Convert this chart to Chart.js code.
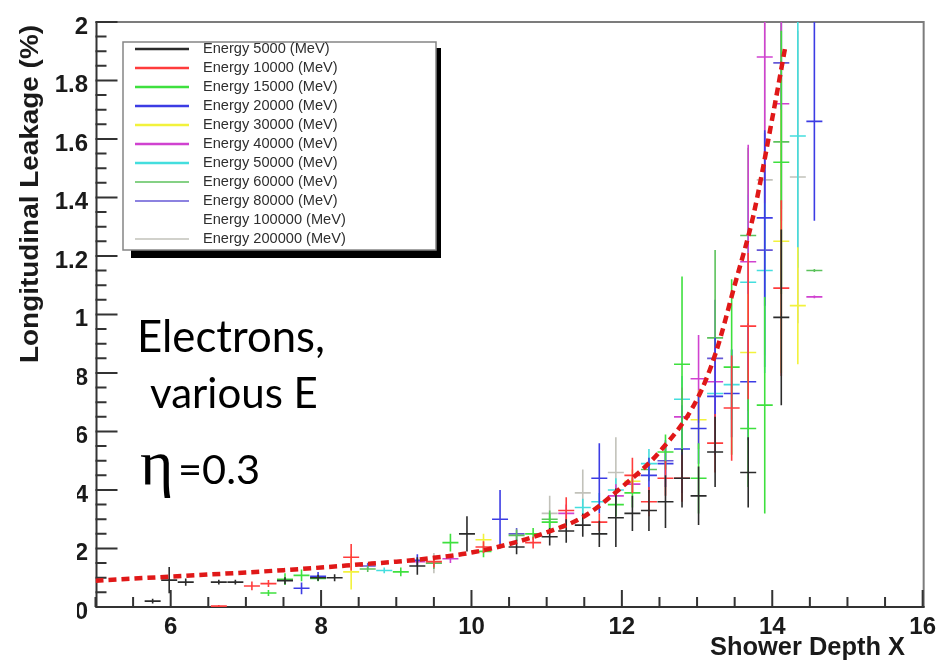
<!DOCTYPE html>
<html>
<head>
<meta charset="utf-8">
<title>Longitudinal Leakage vs Shower Depth</title>
<script src="https://cdn.jsdelivr.net/npm/chart.js@4.4.1/dist/chart.umd.min.js"></script>
<style>
  html, body { margin: 0; padding: 0; background: #fff; }
  #wrap { width: 942px; height: 661px; }
</style>
</head>
<body>
<div id="wrap"><canvas id="leakChart" width="942" height="661"></canvas></div>
<script>
'use strict';

// beam energies (MeV) and colour of each series
const energies = [5000, 10000, 15000, 20000, 30000, 40000, 50000, 60000, 80000, 100000, 200000];
const energyColors = ['#2b2b2b', '#ff3c3c', '#3ee03e', '#3c3ce4', '#f2f23c', '#d042d0', '#44dede', '#5cc25c', '#6658d6', '#ffffff', '#c2c2ba'];

// points: [shower depth X, leakage %, error]
const e5000 = [[5.76,0.02,0.008],[5.98,0.092,0.045],[6.2,0.085,0.012],[6.64,0.085,0.008],[6.86,0.085,0.008],[7.52,0.09,0.012],[7.96,0.1,0.01],[8.18,0.1,0.012],[9.28,0.14,0.03],[9.94,0.25,0.06],[10.6,0.205,0.025],[11.04,0.24,0.03],[11.26,0.26,0.04],[11.48,0.28,0.04],[11.7,0.25,0.045],[11.92,0.305,0.1],[12.14,0.32,0.06],[12.36,0.33,0.07],[12.58,0.36,0.09],[12.8,0.44,0.1],[13.02,0.38,0.1],[13.24,0.53,0.12],[13.68,0.46,0.12],[14.12,0.99,0.3]];
const e10000 = [[6.64,0.003,0.004],[7.08,0.072,0.015],[7.3,0.08,0.012],[8.4,0.17,0.045],[9.5,0.155,0.02],[10.16,0.205,0.02],[10.82,0.22,0.02],[11.26,0.33,0.045],[11.7,0.29,0.03],[12.14,0.45,0.06],[12.36,0.36,0.05],[12.58,0.44,0.06],[12.8,0.44,0.08],[13.24,0.56,0.1],[13.46,0.68,0.18],[13.68,0.96,0.25],[14.12,1.09,0.3]];
const e15000 = [[7.3,0.048,0.01],[7.52,0.095,0.02],[7.74,0.108,0.02],[7.96,0.098,0.01],[9.06,0.12,0.015],[9.72,0.22,0.03],[10.16,0.19,0.02],[10.82,0.25,0.02],[11.04,0.29,0.03],[11.92,0.35,0.04],[12.14,0.39,0.05],[12.58,0.53,0.06],[12.8,0.83,0.3],[13.02,0.44,0.12],[13.46,0.82,0.3],[13.68,0.61,0.2],[13.9,0.69,0.37],[14.12,1.52,0.45]];
const e20000 = [[7.74,0.064,0.02],[7.96,0.105,0.015],[9.28,0.16,0.02],[10.38,0.3,0.1],[11.7,0.44,0.12],[12.36,0.45,0.06],[12.58,0.49,0.08],[12.8,0.54,0.15],[13.02,0.61,0.12],[13.24,0.72,0.2],[13.46,0.73,0.15],[13.68,0.77,0.2],[13.9,1.33,0.3],[14.56,1.66,0.34]];
const e30000 = [[8.4,0.12,0.06],[10.16,0.23,0.02],[12.14,0.43,0.04],[13.02,0.64,0.1],[13.68,0.87,0.2],[14.12,1.25,0.45],[14.34,1.03,0.2]];
const e40000 = [[9.28,0.155,0.01],[9.72,0.165,0.015],[11.26,0.32,0.03],[11.92,0.38,0.04],[12.14,0.42,0.03],[12.8,0.65,0.1],[13.02,0.78,0.15],[13.24,0.77,0.12],[13.68,1.18,0.4],[13.9,1.88,0.5],[14.12,1.72,0.4],[14.56,1.06,0.005]];
const e50000 = [[8.84,0.125,0.01],[11.48,0.34,0.03],[11.7,0.36,0.03],[11.92,0.4,0.04],[12.36,0.49,0.05],[12.8,0.71,0.08],[13.24,0.73,0.1],[13.46,0.76,0.12],[13.68,1.11,0.3],[13.9,1.15,0.35],[14.34,1.61,0.45]];
const e60000 = [[8.62,0.13,0.01],[9.5,0.15,0.02],[10.6,0.245,0.02],[11.04,0.3,0.03],[12.36,0.47,0.04],[13.24,0.92,0.3],[13.68,1.27,0.3],[14.12,1.59,0.5],[14.56,1.15,0.005]];
const e80000 = [[8.62,0.14,0.01],[10.6,0.25,0.02],[12.58,0.5,0.05],[13.24,0.85,0.2],[13.9,1.22,0.4],[14.12,1.86,0.5]];
const e100000 = [];
const e200000 = [[9.5,0.15,0.035],[11.04,0.32,0.06],[11.48,0.39,0.08],[11.92,0.46,0.12],[13.9,1.46,0.6],[14.34,1.47,0.5]];

const energySeries = [e5000, e10000, e15000, e20000, e30000, e40000, e50000, e60000, e80000, e100000, e200000];

// parametrised leakage curve
const fitX = [5, 5.5, 6, 6.5, 7, 7.5, 8, 8.5, 9, 9.5, 10, 10.5, 11, 11.5, 12, 12.5, 13, 13.25, 13.5, 13.75, 14, 14.17];
const fitY = [0.09, 0.097, 0.104, 0.111, 0.118, 0.126, 0.135, 0.145, 0.155, 0.168, 0.186, 0.215, 0.255, 0.31, 0.41, 0.53, 0.71, 0.87, 1.1, 1.34, 1.67, 1.91];

// axes
const xTicks = [6, 8, 10, 12, 14, 16];
const yTicks = [0, 0.2, 0.4, 0.6, 0.8, 1, 1.2, 1.4, 1.6, 1.8, 2];
const yTickLabels = ['0', '0.2', '0.4', '0.6', '0.8', '1', '1.2', '1.4', '1.6', '1.8', '2'];

const axisFont = '"Liberation Sans", Arial, Helvetica, sans-serif';

// vertical error bars, drawn right after each series so stacking stays the same
const errorBars = {
  id: 'errorBars',
  afterDatasetDraw(chart, args) {
    const ds = chart.data.datasets[args.index];
    if (!ds.withErrors) return;
    const { ctx, chartArea: a, scales: { y } } = chart;
    ctx.save();
    ctx.beginPath();
    ctx.rect(a.left, a.top, a.right - a.left, a.bottom - a.top);
    ctx.clip();
    ctx.strokeStyle = ds.borderColor;
    ctx.lineWidth = ds.pointBorderWidth;
    args.meta.data.forEach((pt, i) => {
      const p = ds.data[i];
      ctx.beginPath();
      ctx.moveTo(pt.x, y.getPixelForValue(p.y + p.e));
      ctx.lineTo(pt.x, y.getPixelForValue(p.y - p.e));
      ctx.stroke();
    });
    ctx.restore();
  }
};

// frame with inward ticks
const frame = {
  id: 'frame',
  beforeDatasetsDraw(chart) {
    const { ctx, chartArea: a, scales: { x, y } } = chart;
    ctx.save();
    ctx.lineCap = 'butt';
    ctx.strokeStyle = '#7c7c7c';
    ctx.lineWidth = 2;
    ctx.beginPath();
    ctx.moveTo(a.left, a.top);
    ctx.lineTo(a.right + 1, a.top);
    ctx.lineTo(a.right + 1, a.bottom);
    ctx.stroke();

    ctx.strokeStyle = '#333';
    ctx.beginPath();
    ctx.moveTo(a.left + 1, a.top);
    ctx.lineTo(a.left + 1, a.bottom);
    ctx.lineTo(a.right + 2, a.bottom);
    ctx.stroke();

    ctx.beginPath();
    for (let k = 10; k <= 32; k++) {
      const v = k / 2;
      const px = x.getPixelForValue(v);
      const len = (v % 2 === 0) ? 17 : 10;
      ctx.moveTo(px, a.bottom);
      ctx.lineTo(px, a.bottom - len);
    }
    for (let k = 0; k <= 40; k++) {
      const py = y.getPixelForValue(k * 0.05);
      const len = (k % 4 === 0) ? 22 : 11;
      ctx.moveTo(a.left, py);
      ctx.lineTo(a.left + len, py);
    }
    ctx.stroke();
    ctx.restore();
  }
};

function fitFont(ctx, text, style, family, width) {
  ctx.font = style + ' 100px ' + family;
  const size = 100 * width / ctx.measureText(text).width;
  ctx.font = style + ' ' + size.toFixed(1) + 'px ' + family;
}

// legend box, axis titles and the text note
const decorations = {
  id: 'decorations',
  afterDraw(chart) {
    const ctx = chart.ctx;
    ctx.save();

    // legend
    const l = 123, t = 42, r = 436, b = 250;
    ctx.fillStyle = '#000';
    ctx.fillRect(131, b, r - 131 + 5, 8);
    ctx.fillRect(r, 48, 5, b - 48 + 8);
    ctx.fillStyle = '#fff';
    ctx.fillRect(l, t, r - l, b - t);
    ctx.strokeStyle = '#858585';
    ctx.lineWidth = 1.5;
    ctx.strokeRect(l, t, r - l, b - t);
    fitFont(ctx, 'Energy 5000 (MeV)', '', axisFont, 127);
    ctx.textBaseline = 'middle';
    ctx.textAlign = 'left';
    energies.forEach((e, i) => {
      const yy = 49 + i * 19;
      ctx.strokeStyle = energyColors[i];
      ctx.lineWidth = i < 7 ? 2.5 : 1.5;
      ctx.beginPath();
      ctx.moveTo(135, yy);
      ctx.lineTo(189, yy);
      ctx.stroke();
      ctx.fillStyle = '#2e2e2e';
      ctx.fillText('Energy ' + e + ' (MeV)', 203, yy);
    });

    // axis titles
    ctx.fillStyle = '#1a1a1a';
    ctx.textBaseline = 'alphabetic';
    ctx.font = 'bold 25px ' + axisFont;
    ctx.textAlign = 'right';
    const xt = 'Shower Depth X';
    const xw = ctx.measureText(xt).width;
    ctx.save();
    ctx.translate(905, 655);
    ctx.scale(195 / xw, 1);
    ctx.fillText(xt, 0, 0);
    ctx.restore();

    const yt = 'Longitudinal Leakage (%)';
    const yw = ctx.measureText(yt).width;
    ctx.save();
    ctx.translate(38, 194);
    ctx.rotate(-Math.PI / 2);
    ctx.scale(338 / yw, 1);
    ctx.textAlign = 'center';
    ctx.fillText(yt, 0, 0);
    ctx.restore();

    // note pasted over the lower left corner
    ctx.fillStyle = '#fff';
    ctx.fillRect(45, 330, 32, 331);
    ctx.fillStyle = '#000';
    ctx.textAlign = 'left';
    fitFont(ctx, 'Electrons,', '', 'Lato, "Open Sans", sans-serif', 188);
    ctx.fillText('Electrons,', 137, 352);
    fitFont(ctx, 'various E', '', 'Lato, "Open Sans", sans-serif', 168);
    ctx.fillText('various E', 150, 408);
    ctx.font = '64px "Liberation Serif", "DejaVu Serif", serif';
    ctx.fillText('\u03b7', 140, 484);
    fitFont(ctx, '=0.3', '', 'Lato, "Open Sans", sans-serif', 82);
    ctx.fillText('=0.3', 178, 484);

    ctx.restore();
  }
};

const datasets = [{
  type: 'line',
  label: 'fit',
  data: fitX.map((x, i) => ({ x: x, y: fitY[i] })),
  showLine: true,
  borderColor: '#e01818',
  borderWidth: 4.5,
  borderDash: [8, 5],
  pointRadius: 0,
  cubicInterpolationMode: 'monotone',
  fill: false
}];

energySeries.forEach((pts, i) => {
  datasets.push({
    label: 'Energy ' + energies[i] + ' (MeV)',
    data: pts.map(([x, y, e]) => ({ x: x, y: y, e: e })),
    withErrors: true,
    showLine: false,
    borderColor: energyColors[i],
    backgroundColor: energyColors[i],
    pointStyle: 'line',
    pointRadius: 8,
    pointBorderWidth: 1.6,
    pointHoverRadius: 8
  });
});

new Chart(document.getElementById('leakChart'), {
  type: 'scatter',
  data: { datasets: datasets },
  plugins: [frame, errorBars, decorations],
  options: {
    responsive: false,
    animation: false,
    devicePixelRatio: 1,
    layout: { padding: { left: 0, top: 17, right: 16, bottom: 0 } },
    plugins: { legend: { display: false }, tooltip: { enabled: false } },
    scales: {
      x: {
        type: 'linear',
        min: 5,
        max: 16,
        afterBuildTicks: (s) => { s.ticks = xTicks.map(v => ({ value: v })); },
        afterFit: (s) => { s.height = 54; },
        grid: { display: false, drawTicks: false },
        border: { display: false },
        ticks: {
          autoSkip: false,
          maxRotation: 0,
          minRotation: 0,
          padding: 6,
          color: '#1a1a1a',
          font: { family: axisFont, size: 24, weight: 'bold' }
        }
      },
      y: {
        type: 'linear',
        min: 0,
        max: 2,
        afterBuildTicks: (s) => { s.ticks = yTicks.map(v => ({ value: v })); },
        afterFit: (s) => { s.width = 95.5; },
        grid: { display: false, drawTicks: false },
        border: { display: false },
        ticks: {
          padding: 7.5,
          labelOffset: 5,
          color: '#1a1a1a',
          font: { family: axisFont, size: 24, weight: 'bold' },
          callback: (v, i) => yTickLabels[i]
        }
      }
    }
  }
});
</script>
</body>
</html>
